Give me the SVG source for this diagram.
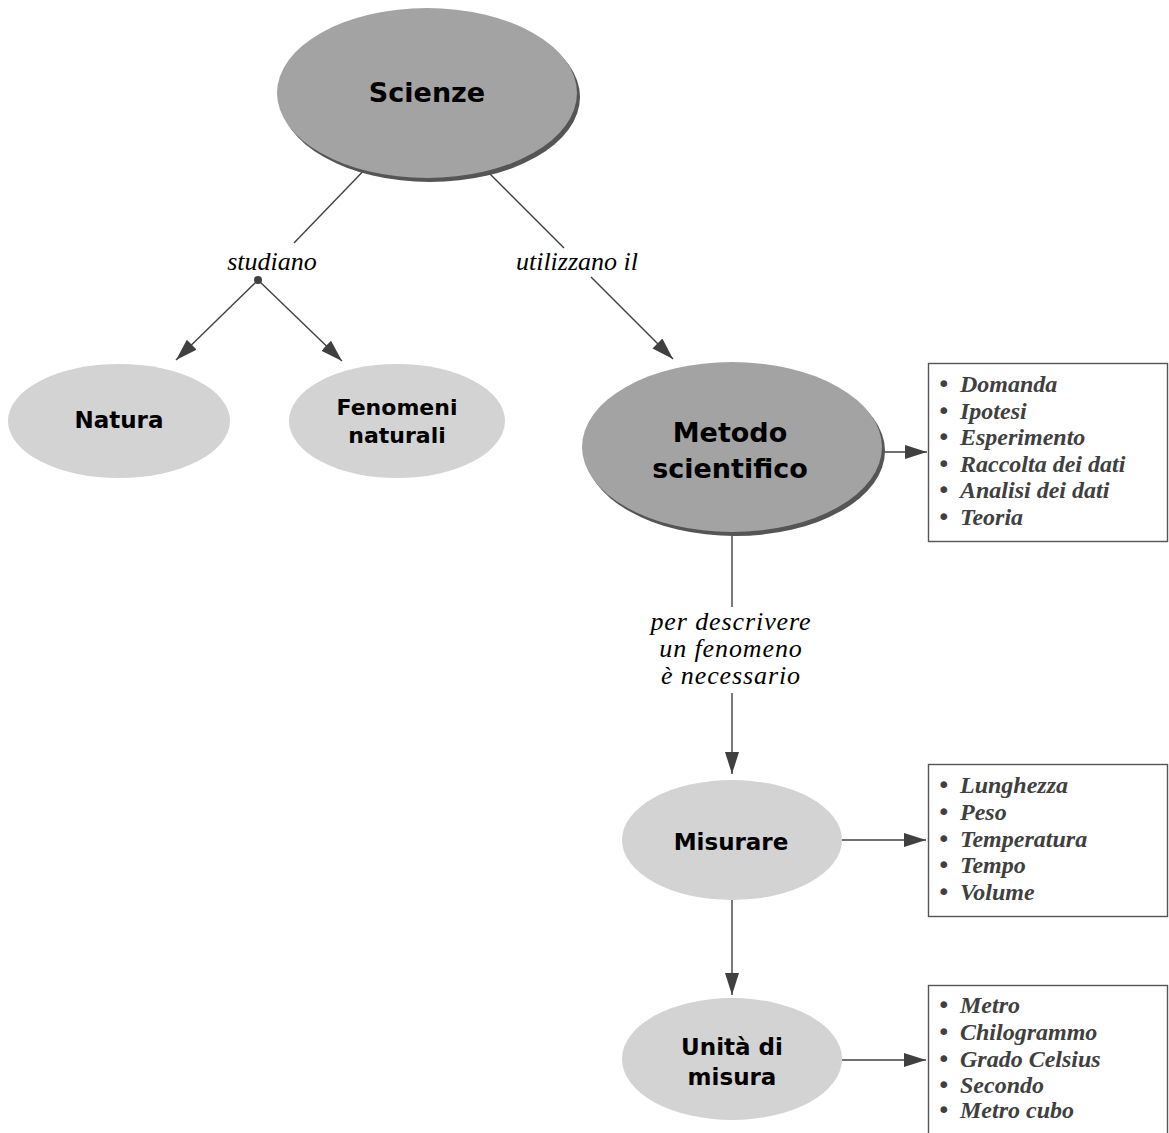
<svg xmlns="http://www.w3.org/2000/svg" width="1169" height="1133" viewBox="0 0 1169 1133">
<style>
.big{fill:#a3a3a3}
.shadow{fill:#555}
.small{fill:#d3d3d3}
.nt{font-family:"DejaVu Sans",sans-serif;font-weight:bold;fill:#000;text-anchor:middle}
.lbl{font-family:"Liberation Serif",serif;font-style:italic;font-size:26px;fill:#000;text-anchor:middle}
.li{font-family:"Liberation Serif",serif;font-style:italic;font-weight:bold;font-size:24px;fill:#404040}
.bu{font-family:"DejaVu Sans",sans-serif;font-size:23px;fill:#404040}
.box{fill:#fff;stroke:#555;stroke-width:1.4}
.con{stroke:#404040;stroke-width:1.4;fill:none}
</style>
<defs>
<marker id="ah" markerUnits="userSpaceOnUse" markerWidth="23" markerHeight="15" refX="22" refY="7" orient="auto">
<path d="M0,0 L22,7 L0,14 z" fill="#404040"/>
</marker>
</defs>
<rect width="1169" height="1133" fill="#fff"/>
<g id="connectors">
<line class="con" x1="372" y1="162" x2="294" y2="243"/>
<circle cx="258" cy="280" r="4" fill="#404040"/>
<line class="con" x1="258" y1="280" x2="176" y2="360" marker-end="url(#ah)"/>
<line class="con" x1="258" y1="280" x2="342" y2="361" marker-end="url(#ah)"/>
<line class="con" x1="480" y1="164" x2="564" y2="248"/>
<line class="con" x1="591" y1="277" x2="673" y2="359" marker-end="url(#ah)"/>
<line class="con" x1="880" y1="452" x2="927" y2="452" marker-end="url(#ah)"/>
<line class="con" x1="732" y1="530" x2="732" y2="607"/>
<line class="con" x1="732" y1="693" x2="732" y2="774" marker-end="url(#ah)"/>
<line class="con" x1="842" y1="840" x2="926" y2="840" marker-end="url(#ah)"/>
<line class="con" x1="732" y1="898" x2="732" y2="995" marker-end="url(#ah)"/>
<line class="con" x1="842" y1="1060" x2="926" y2="1060" marker-end="url(#ah)"/>
</g>
<g id="label-studiano"><text class="lbl" x="272" y="270">studiano</text></g>
<g id="label-utilizzano"><text class="lbl" x="577" y="270">utilizzano il</text></g>
<g id="label-descrivere">
<text class="lbl" x="731" y="630" font-size="22" letter-spacing="0.9"><tspan x="731" y="630">per descrivere</tspan><tspan x="731" y="657">un fenomeno</tspan><tspan x="731" y="684">è necessario</tspan></text>
</g>
<g id="node-scienze">
<ellipse class="shadow" cx="430" cy="97" rx="150" ry="85"/>
<ellipse class="big" cx="427" cy="93" rx="150" ry="85"/>
<text class="nt" x="427" y="102" font-size="27">Scienze</text>
</g>
<g id="node-natura">
<ellipse class="small" cx="119" cy="421" rx="111" ry="57"/>
<text class="nt" x="119" y="428" font-size="23">Natura</text>
</g>
<g id="node-fenomeni">
<ellipse class="small" cx="397" cy="421" rx="108" ry="57"/>
<text class="nt" x="397" y="415" font-size="22">Fenomeni</text>
<text class="nt" x="397" y="443" font-size="22">naturali</text>
</g>
<g id="node-metodo">
<ellipse class="shadow" cx="735" cy="451" rx="150" ry="85"/>
<ellipse class="big" cx="732" cy="447" rx="150" ry="85"/>
<text class="nt" x="730" y="442" font-size="27">Metodo</text>
<text class="nt" x="730" y="478" font-size="27">scientifico</text>
</g>
<g id="node-misurare">
<ellipse class="small" cx="732" cy="840" rx="110" ry="60"/>
<text class="nt" x="731" y="850" font-size="23">Misurare</text>
</g>
<g id="node-unita">
<ellipse class="small" cx="732" cy="1059" rx="110" ry="61"/>
<text class="nt" x="732" y="1055" font-size="23">Unità di</text>
<text class="nt" x="732" y="1085" font-size="23">misura</text>
</g>
<g id="list-metodo">
<rect class="box" x="928.5" y="363.5" width="239" height="178"/>
<text class="bu" x="937" y="392">•</text><text class="li" x="960" y="392">Domanda</text>
<text class="bu" x="937" y="418.5">•</text><text class="li" x="960" y="418.5">Ipotesi</text>
<text class="bu" x="937" y="445">•</text><text class="li" x="960" y="445">Esperimento</text>
<text class="bu" x="937" y="471.5">•</text><text class="li" x="960" y="471.5">Raccolta dei dati</text>
<text class="bu" x="937" y="498">•</text><text class="li" x="960" y="498">Analisi dei dati</text>
<text class="bu" x="937" y="524.5">•</text><text class="li" x="960" y="524.5">Teoria</text>
</g>
<g id="list-misurare">
<rect class="box" x="928.5" y="764.5" width="239" height="152"/>
<text class="bu" x="937" y="793">•</text><text class="li" x="960" y="793">Lunghezza</text>
<text class="bu" x="937" y="820">•</text><text class="li" x="960" y="820">Peso</text>
<text class="bu" x="937" y="847">•</text><text class="li" x="960" y="847">Temperatura</text>
<text class="bu" x="937" y="873">•</text><text class="li" x="960" y="873">Tempo</text>
<text class="bu" x="937" y="900">•</text><text class="li" x="960" y="900">Volume</text>
</g>
<g id="list-unita">
<rect class="box" x="928.5" y="985.5" width="239" height="160"/>
<text class="bu" x="937" y="1013">•</text><text class="li" x="960" y="1013">Metro</text>
<text class="bu" x="937" y="1040">•</text><text class="li" x="960" y="1040">Chilogrammo</text>
<text class="bu" x="937" y="1067">•</text><text class="li" x="960" y="1067">Grado Celsius</text>
<text class="bu" x="937" y="1093">•</text><text class="li" x="960" y="1093">Secondo</text>
<text class="bu" x="937" y="1118">•</text><text class="li" x="960" y="1118">Metro cubo</text>
</g>
</svg>
